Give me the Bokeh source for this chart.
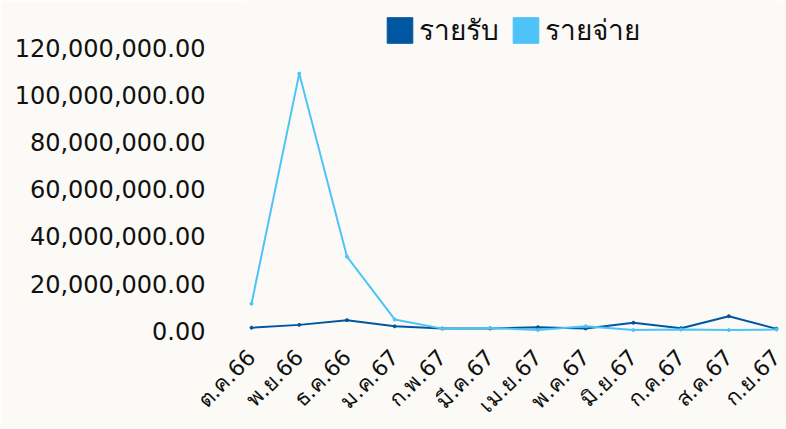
import math
from bokeh.plotting import figure
from bokeh.models import (Legend, LegendItem, NumeralTickFormatter, FixedTicker,
                          Range1d, ColumnDataSource)
from bokeh.embed import file_html
from bokeh.resources import INLINE

months = ["ต.ค.66", "พ.ย.66", "ธ.ค.66", "ม.ค.67", "ก.พ.67", "มี.ค.67",
          "เม.ย.67", "พ.ค.67", "มิ.ย.67", "ก.ค.67", "ส.ค.67", "ก.ย.67"]
income = [1.2e6, 2.4e6, 4.4e6, 1.8e6, 0.85e6, 0.85e6, 1.4e6, 0.85e6, 3.3e6, 1.0e6, 6.1e6, 0.7e6]
expense = [11.4e6, 109.3e6, 31.4e6, 4.7e6, 0.8e6, 1.1e6, 0.2e6, 1.8e6, 0.2e6, 0.4e6, 0.2e6, 0.4e6]
y_ticks = [0, 20e6, 40e6, 60e6, 80e6, 100e6, 120e6]
series_names = ["รายรับ", "รายจ่าย"]
colors = ["#00579f", "#4dc3f8"]

FONT = "DejaVu Sans"
BG = "#fbfaf6"

x = list(range(len(months)))
src = ColumnDataSource(dict(x=x, income=income, expense=expense))

p = figure(width=786, height=429, output_backend="svg", toolbar_location=None,
           x_range=Range1d(-0.126, 11.04), y_range=Range1d(-1.27e6, 140.4e6),
           min_border_left=245, min_border_right=8, min_border_top=0,
           min_border_bottom=20)
p.background_fill_color = BG
p.border_fill_color = BG
p.outline_line_color = None
p.grid.visible = False

r1 = p.line("x", "income", source=src, line_color=colors[0], line_width=2)
p.scatter("x", "income", source=src, size=3, color=colors[0])
r2 = p.line("x", "expense", source=src, line_color=colors[1], line_width=2)
p.scatter("x", "expense", source=src, size=3, color=colors[1])

# square swatches for the legend (not visible on the chart)
sq1 = p.rect(x=[-10], y=[0], width=0.001, height=1, color=colors[0])
sq2 = p.rect(x=[-10], y=[0], width=0.001, height=1, color=colors[1])

xa = p.xaxis[0]
xa.ticker = FixedTicker(ticks=x)
xa.major_label_overrides = {i: m for i, m in enumerate(months)}
xa.major_label_orientation = math.pi / 4
xa.axis_line_color = None
xa.major_tick_line_color = None
xa.minor_tick_line_color = None
xa.major_label_text_font = FONT
xa.major_label_text_font_size = "22px"
xa.major_label_text_color = "#111111"
xa.major_label_standoff = 14

ya = p.yaxis[0]
ya.ticker = FixedTicker(ticks=y_ticks)
ya.formatter = NumeralTickFormatter(format="0,0.00")
ya.axis_line_color = None
ya.major_tick_line_color = None
ya.minor_tick_line_color = None
ya.major_label_text_font = FONT
ya.major_label_text_font_size = "24px"
ya.major_label_text_color = "#111111"
ya.major_label_standoff = 34

legend = Legend(items=[LegendItem(label=series_names[0], renderers=[sq1]),
                       LegendItem(label=series_names[1], renderers=[sq2])],
                orientation="horizontal", location="top_center",
                glyph_width=32, glyph_height=32, label_standoff=4, spacing=10,
                padding=2, margin=8, border_line_color=None,
                background_fill_alpha=0,
                label_text_font=FONT, label_text_font_size="28px",
                label_text_color="#111111")
p.add_layout(legend, "center")

open("out.html", "w").write(file_html(p, INLINE))
